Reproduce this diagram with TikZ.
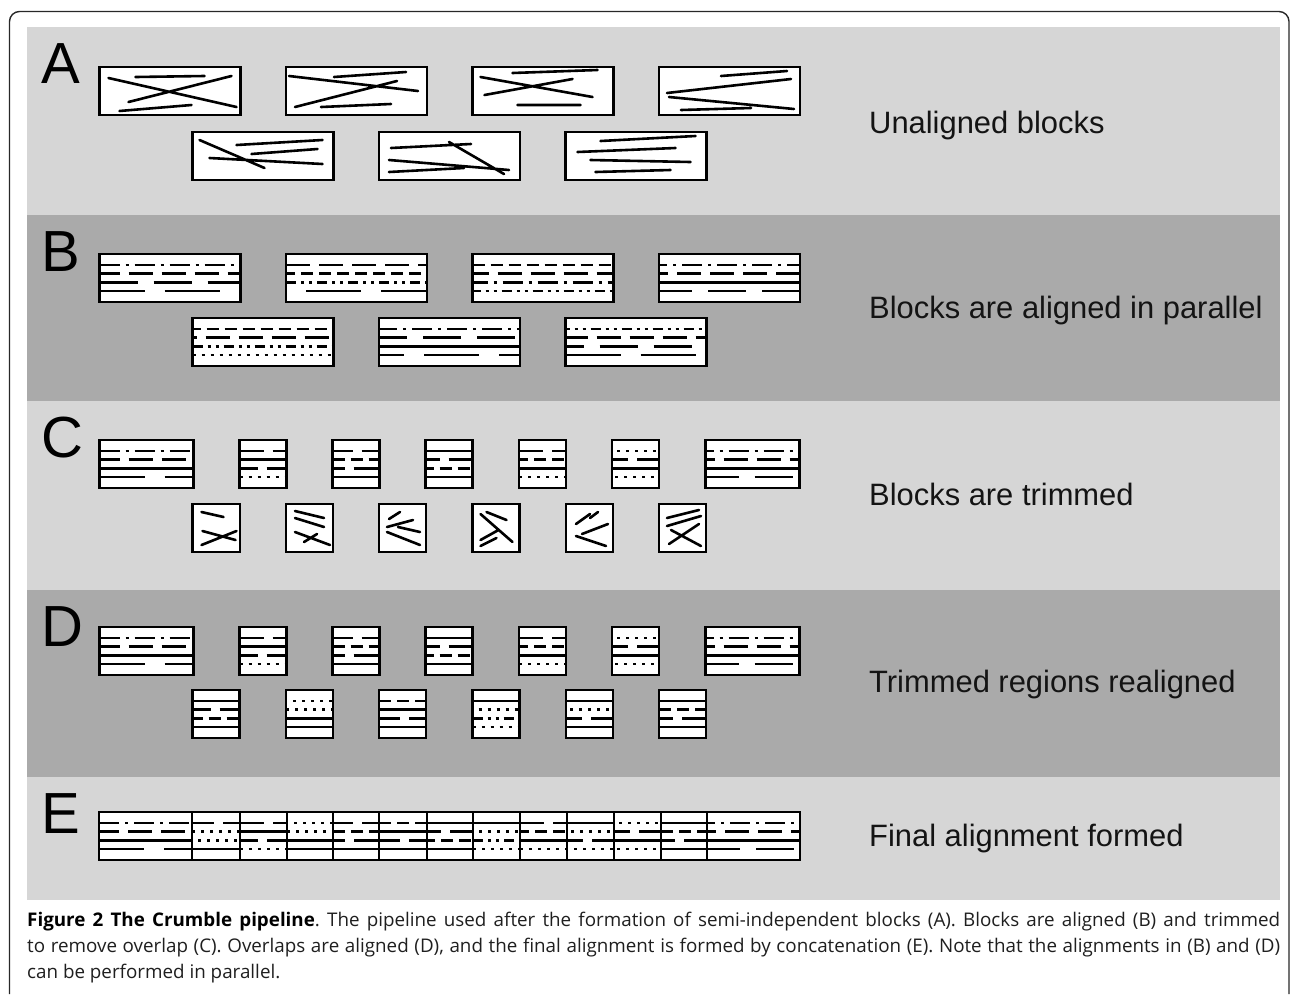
\documentclass[tikz,border=0pt]{standalone}
\usepackage{fontspec}
\setmainfont{Liberation Sans}
\newfontfamily\capfont{Open Sans}
\definecolor{panellight}{RGB}{214,214,214}
\definecolor{paneldark}{RGB}{170,170,170}
\definecolor{framecol}{RGB}{40,40,40}
\tikzset{
  blkline/.style={line width=2.6pt, black},
  blkborder/.style={line width=2.6pt, black},
  letter/.style={font=\fontsize{58}{60}\selectfont, inner sep=0pt, text=black},
  lbl/.style={font=\fontsize{30.9}{34}\selectfont, inner sep=0pt, text=black!92},
  dpa/.style={dash pattern=on 20pt off 6pt on 3pt off 6pt},
  dpb/.style={dash pattern=on 24pt off 9pt},
  dpc/.style={dash pattern=on 12pt off 6pt},
  dpd/.style={dash pattern=on 3pt off 6pt},
  dpe/.style={dash pattern=on 38pt off 16pt},
  dpf/.style={dash pattern=on 10pt off 5pt on 3pt off 5pt on 3pt off 5pt},
  dpg/.style={dash pattern=on 55pt off 20pt},
}
\newcommand{\alnblk}[7]{%
  \fill[white] ({#1},{#2}) rectangle ({#1+#3},{#2+48});
  \draw[blkline,#4] ({#1},{#2+11}) -- ({#1+#3},{#2+11});
  \draw[blkline,#5] ({#1},{#2+19.7}) -- ({#1+#3},{#2+19.7});
  \draw[blkline,#6] ({#1},{#2+28.3}) -- ({#1+#3},{#2+28.3});
  \draw[blkline,#7] ({#1},{#2+37}) -- ({#1+#3},{#2+37});
  \draw[blkborder] ({#1},{#2}) rectangle ({#1+#3},{#2+48});
}
\newcommand{\unblk}[4]{%
  \begin{scope}[shift={(#1,#2)}]
    \fill[white] (0,0) rectangle (#3,48);
    \draw[blkline, line cap=round] #4;
    \draw[blkborder] (0,0) rectangle (#3,48);
  \end{scope}
}
\begin{document}
\frenchspacing
\begin{tikzpicture}[x=1pt,y=-1pt]
\useasboundingbox (0,0) rectangle (1290,994);
\fill[white] (0,0) rectangle (1290,994);
% frame
\draw[line width=1.4pt, framecol, rounded corners=10pt] (9.5,994) -- (9.5,11.5) -- (1289,11.5) -- (1289,994);
% panels
\fill[panellight] (26.5,27) rectangle (1280,215);
\fill[paneldark] (26.5,215) rectangle (1280,401);
\fill[panellight] (26.5,401) rectangle (1280,590);
\fill[paneldark] (26.5,590) rectangle (1280,777);
\fill[panellight] (26.5,777) rectangle (1280,900);
% letters
\node[letter, anchor=base west] (lA) at (41,83) {A};
\node[letter, anchor=base west] (lB) at (41,271) {B};
\node[letter, anchor=base west] (lC) at (41,457) {C};
\node[letter, anchor=base west] (lD) at (41,646) {D};
\node[letter, anchor=base west] (lE) at (41,833) {E};
% labels
\node[lbl, anchor=base west] (tA) at (869,133) {Unaligned blocks};
\node[lbl, anchor=base west] (tB) at (869,318) {Blocks are aligned in parallel};
\node[lbl, anchor=base west] (tC) at (869,505) {Blocks are trimmed};
\node[lbl, anchor=base west] (tD) at (869,692) {Trimmed regions realigned};
\node[lbl, anchor=base west] (tE) at (869,846) {Final alignment formed};
% ---------- A: unaligned blocks
\unblk{99.5}{67}{141}{(9,11)--(137,40) (36,10)--(105,9) (29,35)--(132,9) (20,44)--(92,38)}
\unblk{286}{67}{141}{(3,9)--(132,24) (48,10)--(120,5) (9,40)--(111,14) (35,40)--(105,37)}
\unblk{472.5}{67}{141}{(8,10)--(120,30) (40,6)--(125,3) (12,28)--(100,12) (45,38)--(108,38)}
\unblk{659}{67}{141}{(62,9)--(128,4) (8,26)--(132,12) (10,30)--(135,42) (22,43)--(92,41)}
\unblk{192.5}{132}{141}{(7,8)--(72,36) (44,13)--(130,8) (59,22)--(125,17) (17,26)--(130,32)}
\unblk{379}{132}{141}{(12,16)--(92,12) (70,10)--(125,42) (10,28)--(130,38) (10,40)--(85,36)}
\unblk{565.5}{132}{141}{(35,9)--(130,4) (12,20)--(110,16) (25,28)--(125,30) (30,40)--(105,38)}
% ---------- B: aligned blocks
\alnblk{99.5}{254}{141}{dpa}{dpb,dash phase=4pt}{dpe}{dpg,dash phase=10pt}
\alnblk{286}{254}{141}{dpb}{dpc,dash phase=3pt}{dpf}{dpg,dash phase=-20pt}
\alnblk{472.5}{254}{141}{dpc}{dpb,dash phase=8pt}{dpa,dash phase=5pt}{dpf,dash phase=2pt}
\alnblk{659}{254}{141}{dpa,dash phase=12pt}{dpb,dash phase=15pt}{solid}{dpe,dash phase=5pt}
\alnblk{192.5}{318}{141}{dpc,dash phase=4pt}{dpb,dash phase=20pt}{dpf}{dpd}
\alnblk{379}{318}{141}{dpa,dash phase=2pt}{dpe,dash phase=10pt}{solid}{dpg,dash phase=30pt}
\alnblk{565.5}{318}{141}{dpf,dash phase=6pt}{dpb,dash phase=2pt}{dpe,dash phase=20pt}{dpg}
% ---------- C: trimmed
\alnblk{99.5}{440}{94}{dpa}{dpb,dash phase=4pt}{solid}{dpg,dash phase=10pt}
\alnblk{239.5}{440}{47}{dpb}{solid}{dpb,dash phase=6pt}{dpd}
\alnblk{332.5}{440}{47}{dpb,dash phase=4pt}{dpc}{dpb,dash phase=12pt}{solid}
\alnblk{425.5}{440}{47}{solid}{dpb,dash phase=10pt}{dpc,dash phase=4pt}{solid}
\alnblk{519}{440}{47}{dpb}{dpc,dash phase=3pt}{solid}{dpd}
\alnblk{612}{440}{47}{dpd,dash phase=4pt}{dpb,dash phase=8pt}{solid}{dpd,dash phase=6pt}
\alnblk{705.5}{440}{94}{dpa,dash phase=12pt}{dpb,dash phase=15pt}{solid}{dpe,dash phase=5pt}
\unblk{192.5}{504}{47.5}{(9,8)--(31,13) (9,41)--(44,27) (10,27)--(43,36)}
\unblk{286}{504}{47}{(9,7)--(38,14) (9,14)--(38,23) (9,28)--(44,41) (18,38)--(31,30)}
\unblk{379}{504}{47}{(10,15)--(21,8) (8,23)--(34,16) (8,28)--(41,41) (19,23)--(41,28)}
\unblk{472.5}{504}{47}{(8,10)--(40,38) (14,8)--(34,16) (8,36)--(26,26) (8,42)--(24,34)}
\unblk{566}{504}{47}{(10,20)--(24,10) (16,30)--(42,20) (10,32)--(40,42) (24,14)--(32,8)}
\unblk{659}{504}{47}{(8,14)--(40,6) (8,22)--(42,12) (10,40)--(40,20) (12,26)--(42,42)}
% ---------- D: realigned
\alnblk{99.5}{627}{94}{dpa}{dpb,dash phase=4pt}{solid}{dpg,dash phase=10pt}
\alnblk{239.5}{627}{47}{dpb}{solid}{dpb,dash phase=6pt}{dpd}
\alnblk{332.5}{627}{47}{dpb,dash phase=4pt}{dpc}{dpb,dash phase=12pt}{solid}
\alnblk{425.5}{627}{47}{solid}{dpb,dash phase=10pt}{dpc,dash phase=4pt}{solid}
\alnblk{519}{627}{47}{dpb}{dpc,dash phase=3pt}{solid}{dpd}
\alnblk{612}{627}{47}{dpd,dash phase=4pt}{dpb,dash phase=8pt}{solid}{dpd,dash phase=6pt}
\alnblk{705.5}{627}{94}{dpa,dash phase=12pt}{dpb,dash phase=15pt}{solid}{dpe,dash phase=5pt}
\alnblk{192.5}{690}{47}{solid}{dpb,dash phase=6pt}{dpc,dash phase=2pt}{solid}
\alnblk{286}{690}{47}{dpd,dash phase=2pt}{dpd}{solid}{solid}
\alnblk{379}{690}{47}{dpc}{solid}{dpb,dash phase=3pt}{solid}
\alnblk{472.5}{690}{47}{solid}{dpd,dash phase=3pt}{dpf}{dpd}
\alnblk{566}{690}{47}{solid}{dpd,dash phase=5pt}{dpb,dash phase=8pt}{solid}
\alnblk{659}{690}{47}{solid}{dpc}{dpb,dash phase=10pt}{solid}
% ---------- E: final alignment
\alnblk{99}{812}{93}{dpa}{dpb,dash phase=4pt}{solid}{dpg,dash phase=10pt}
\alnblk{192}{812}{48}{dpb,dash phase=2pt}{dpd}{dpd,dash phase=3pt}{solid}
\alnblk{240}{812}{47}{dpb}{solid}{dpb,dash phase=6pt}{dpd}
\alnblk{287}{812}{46}{dpd,dash phase=2pt}{dpd}{solid}{solid}
\alnblk{333}{812}{46}{dpb,dash phase=4pt}{dpc}{dpb,dash phase=12pt}{solid}
\alnblk{379}{812}{48}{dpc}{solid}{dpb,dash phase=3pt}{solid}
\alnblk{427}{812}{46}{solid}{dpb,dash phase=10pt}{dpc,dash phase=4pt}{solid}
\alnblk{473}{812}{47}{solid}{dpd,dash phase=3pt}{dpf}{dpd}
\alnblk{520}{812}{47}{dpb}{dpc,dash phase=3pt}{solid}{dpd}
\alnblk{567}{812}{47}{solid}{dpd,dash phase=5pt}{dpb,dash phase=8pt}{dpd,dash phase=2pt}
\alnblk{614}{812}{47}{dpd,dash phase=4pt}{dpb,dash phase=8pt}{solid}{dpd,dash phase=6pt}
\alnblk{661}{812}{46}{solid}{dpc}{dpb,dash phase=10pt}{solid}
\alnblk{707}{812}{93}{dpa,dash phase=12pt}{dpb,dash phase=15pt}{solid}{dpe,dash phase=5pt}
% caption
\node[anchor=base west, inner sep=0pt, text=black!88] (cap) at (27,926) {\parbox[t]{1253pt}{\capfont\fontsize{18.8}{26}\selectfont\frenchspacing
\textbf{\color{black}Figure 2 The Crumble pipeline}. The pipeline used after the formation of semi-independent blocks (A). Blocks are aligned (B) and trimmed\linebreak
to remove overlap (C). Overlaps are aligned (D), and the final alignment is formed by concatenation (E). Note that the alignments in (B) and (D)\linebreak
can be performed in parallel.}};
\end{tikzpicture}
\end{document}
